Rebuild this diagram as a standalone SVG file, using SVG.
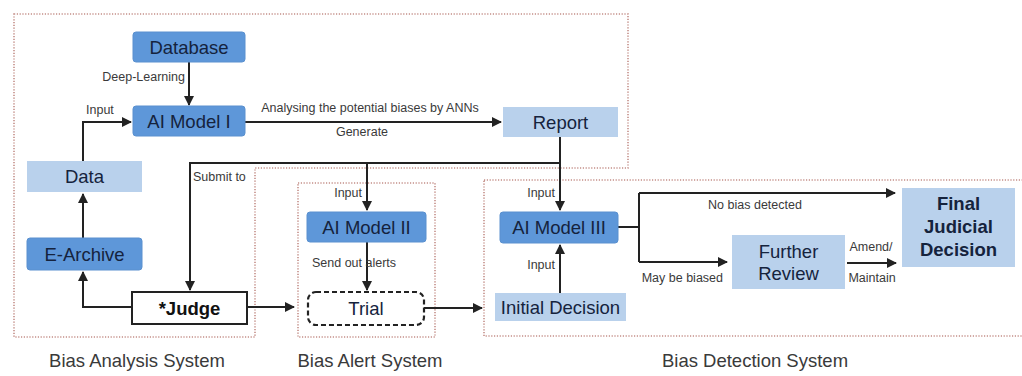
<svg xmlns="http://www.w3.org/2000/svg" width="1022" height="376" viewBox="0 0 1022 376">
<style>
.sys{fill:none;stroke:#c48e88;stroke-width:1.6;stroke-dasharray:1.2 1.6}
.dark{fill:#5e97d9;stroke:#5a90cf;stroke-width:1}
.light{fill:#b9d1ec}
.nt{font-family:"Liberation Sans",Arial,sans-serif;font-size:18.5px;fill:#15233d;text-anchor:middle}
.lb{font-family:"Liberation Sans",Arial,sans-serif;font-size:12.5px;fill:#3a3a3a}
.cap{font-family:"Liberation Sans",Arial,sans-serif;font-size:18.5px;fill:#3a3a3a;text-anchor:middle}
.ln{fill:none;stroke:#222;stroke-width:2}
</style>
<defs>
<marker id="ah" viewBox="0 0 10 10" refX="9" refY="5" markerWidth="5" markerHeight="5" orient="auto" markerUnits="strokeWidth">
<path d="M0,0 L10,5 L0,10 Z" fill="#222"/>
</marker>
</defs>
<rect width="1022" height="376" fill="#ffffff"/>

<g id="systems">
<polygon class="sys" points="14,14 628,14 628,168 255,168 255,337 14,337"/>
<rect class="sys" x="298" y="183" width="137" height="154"/>
<rect class="sys" x="484" y="180" width="545" height="156"/>
<text class="cap" x="137" y="367">Bias Analysis System</text>
<text class="cap" x="370" y="367">Bias Alert System</text>
<text class="cap" x="755" y="367">Bias Detection System</text>
</g>

<g id="connectors">
<line class="ln" x1="189" y1="62" x2="189" y2="105" marker-end="url(#ah)"/>
<text class="lb" x="185" y="81" text-anchor="end">Deep-Learning</text>
<polyline class="ln" points="83,161 83,122 131,122" marker-end="url(#ah)"/>
<text class="lb" x="86" y="114">Input</text>
<line class="ln" x1="245" y1="122" x2="501" y2="122" marker-end="url(#ah)"/>
<text class="lb" x="370" y="112" text-anchor="middle">Analysing the potential biases by ANNs</text>
<text class="lb" x="362" y="136" text-anchor="middle">Generate</text>
<polyline class="ln" points="560,137 560,163 190,163 190,290" marker-end="url(#ah)"/>
<text class="lb" x="193" y="181">Submit to</text>
<line class="ln" x1="367" y1="163" x2="367" y2="210" marker-end="url(#ah)"/>
<text class="lb" x="362" y="197" text-anchor="end">Input</text>
<line class="ln" x1="560" y1="163" x2="560" y2="210" marker-end="url(#ah)"/>
<text class="lb" x="555" y="197" text-anchor="end">Input</text>
<line class="ln" x1="83" y1="238" x2="83" y2="194" marker-end="url(#ah)"/>
<polyline class="ln" points="132,307 83,307 83,272" marker-end="url(#ah)"/>
<line class="ln" x1="247" y1="307" x2="294" y2="307" marker-end="url(#ah)"/>
<line class="ln" x1="367" y1="242" x2="367" y2="290" marker-end="url(#ah)"/>
<text class="lb" x="312" y="267">Send out alerts</text>
<line class="ln" x1="424" y1="308" x2="482" y2="308" marker-end="url(#ah)"/>
<line class="ln" x1="560" y1="293" x2="560" y2="245" marker-end="url(#ah)"/>
<text class="lb" x="555" y="269" text-anchor="end">Input</text>
<polyline class="ln" points="618,227 639,227"/>
<polyline class="ln" points="639,193 639,262"/>
<line class="ln" x1="639" y1="193" x2="895" y2="193" marker-end="url(#ah)"/>
<text class="lb" x="755" y="209" text-anchor="middle">No bias detected</text>
<line class="ln" x1="639" y1="262" x2="727" y2="262" marker-end="url(#ah)"/>
<text class="lb" x="723" y="282" text-anchor="end">May be biased</text>
<line class="ln" x1="847" y1="263" x2="896" y2="263" marker-end="url(#ah)"/>
<text class="lb" x="871" y="251" text-anchor="middle">Amend/</text>
<text class="lb" x="872" y="282" text-anchor="middle">Maintain</text>
</g>

<g id="database">
<rect class="dark" x="133" y="32" width="112" height="30" rx="3"/>
<text class="nt" x="189" y="53.5">Database</text>
</g>
<g id="ai-model-1">
<rect class="dark" x="133" y="106" width="112" height="30" rx="3"/>
<text class="nt" x="189" y="127.5">AI Model I</text>
</g>
<g id="report">
<rect class="light" x="503" y="107" width="115" height="30"/>
<text class="nt" x="560.5" y="128.5">Report</text>
</g>
<g id="data">
<rect class="light" x="27" y="161" width="115" height="31"/>
<text class="nt" x="84.5" y="183">Data</text>
</g>
<g id="e-archive">
<rect class="dark" x="27" y="238" width="115" height="32" rx="3"/>
<text class="nt" x="84.5" y="260.5">E-Archive</text>
</g>
<g id="judge">
<rect x="132" y="292" width="115" height="32" fill="#fff" stroke="#222" stroke-width="2"/>
<text class="nt" x="189.5" y="314.5" style="font-weight:bold;fill:#111">*Judge</text>
</g>
<g id="ai-model-2">
<rect class="dark" x="307" y="212" width="119" height="30" rx="3"/>
<text class="nt" x="366.5" y="233.5">AI Model II</text>
</g>
<g id="trial">
<rect x="308" y="292" width="116" height="33" rx="8" fill="#fff" stroke="#222" stroke-width="2.2" stroke-dasharray="5 3"/>
<text class="nt" x="366" y="314.5">Trial</text>
</g>
<g id="ai-model-3">
<rect class="dark" x="500" y="212" width="118" height="31" rx="3"/>
<text class="nt" x="559" y="234">AI Model III</text>
</g>
<g id="initial-decision">
<rect class="light" x="495" y="293" width="131" height="28"/>
<text class="nt" x="560.5" y="313.5">Initial Decision</text>
</g>
<g id="further-review">
<rect class="light" x="732" y="235" width="113" height="54"/>
<text class="nt" x="788.5" y="258">Further</text>
<text class="nt" x="788.5" y="280">Review</text>
</g>
<g id="final-decision">
<rect class="light" x="902" y="188" width="113" height="79"/>
<text class="nt" x="958.5" y="210" style="font-weight:bold">Final</text>
<text class="nt" x="958.5" y="233" style="font-weight:bold">Judicial</text>
<text class="nt" x="958.5" y="256" style="font-weight:bold">Decision</text>
</g>
</svg>
